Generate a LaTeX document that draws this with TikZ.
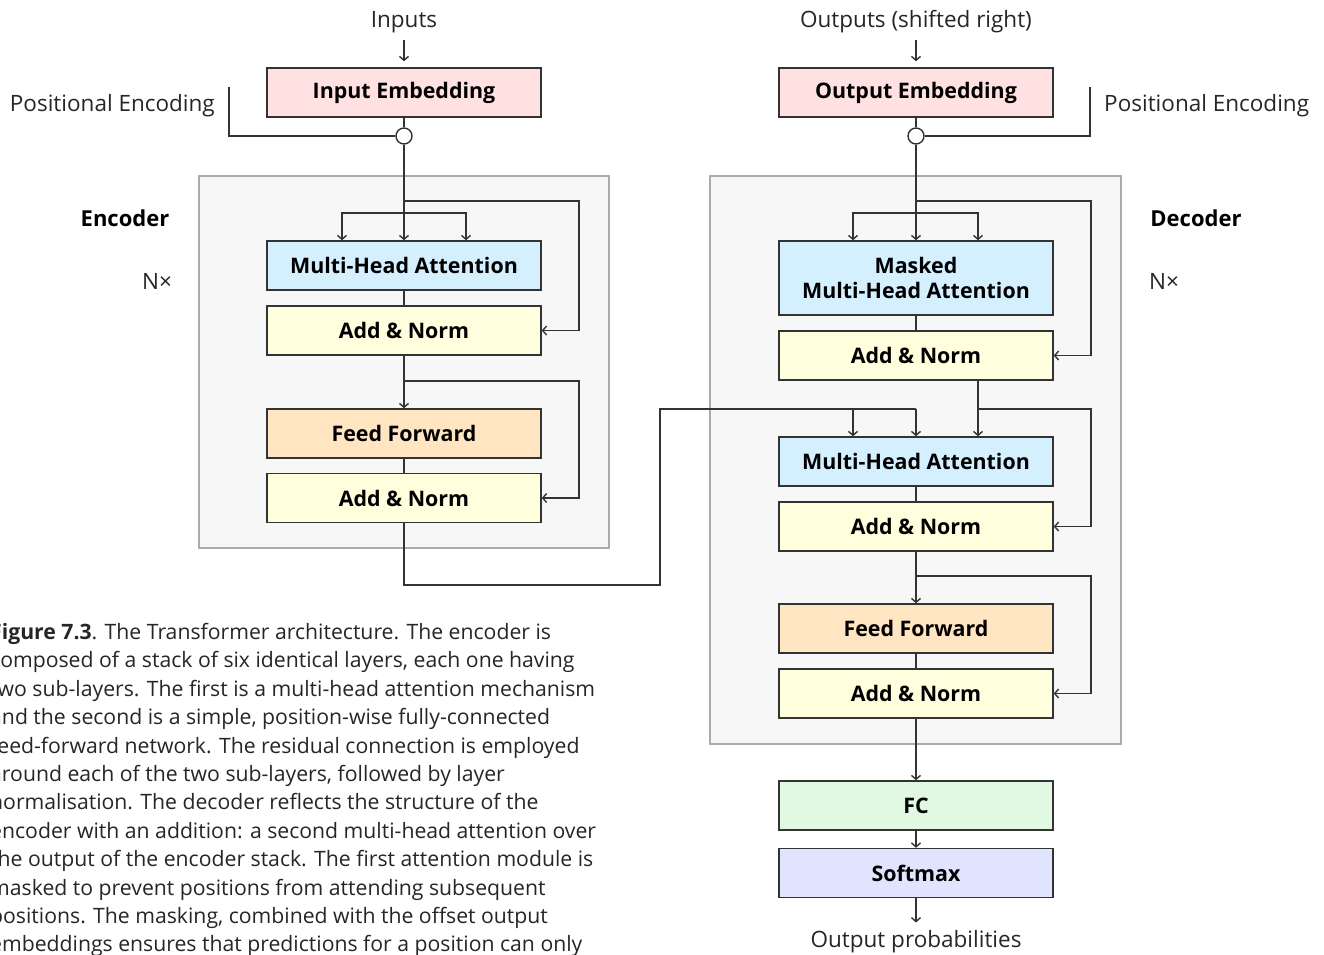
\documentclass[tikz,border=0pt]{standalone}
\usepackage{fontspec}
\setmainfont{Open Sans}
\usetikzlibrary{arrows.meta}
\definecolor{pinkf}{HTML}{FFE1E1}
\definecolor{bluef}{HTML}{D4F0FF}
\definecolor{yelf}{HTML}{FFFEDD}
\definecolor{orf}{HTML}{FFE5C1}
\definecolor{grnf}{HTML}{E1F8E3}
\definecolor{lavf}{HTML}{E1E4FF}
\definecolor{stackf}{HTML}{F7F7F7}
\definecolor{stackd}{HTML}{ABABAB}
\definecolor{linec}{HTML}{333333}
\begin{document}
\begin{tikzpicture}[x=1pt,y=-1pt,
  blk/.style={draw=linec,line width=1.4pt,minimum width=274pt,minimum height=49pt,inner sep=0pt,
    font=\fontsize{21.4}{25}\selectfont\bfseries,align=center,text=black},
  stackbox/.style={draw=stackd,fill=stackf,line width=1.4pt,inner sep=0pt},
  lbl/.style={font=\fontsize{22.5}{26}\selectfont,inner sep=0pt,text=black!85},
  hdr/.style={font=\fontsize{22}{26}\selectfont\bfseries,inner sep=0pt,text=black},
  conn/.style={draw=linec,line width=1.4pt},
  arr/.style={conn,-{Straight Barb[length=4pt,width=9pt]}},
  junc/.style={circle,draw=linec,fill=white,line width=1.4pt,minimum size=16pt,inner sep=0pt}
]
\useasboundingbox (0,0) rectangle (1324,954);
\clip (0,0) rectangle (1324,954);
\fill[white] (0,0) rectangle (1324,954);

% stacks
\node[stackbox,minimum width=410pt,minimum height=372pt] (encstack) at (404,362) {};
\node[stackbox,minimum width=411pt,minimum height=568pt] (decstack) at (915.5,460) {};

% encoder side
\node[lbl] (inputs) at (404,22) {Inputs};
\node[blk,fill=pinkf] (iemb) at (404,92.5) {Input Embedding};
\node[lbl,anchor=east] (pe1) at (215,106) {Positional Encoding};
\node[junc] (ec) at (404,136) {};
\node[hdr] (enclab) at (125,218) {Encoder};
\node[lbl] (encn) at (157,281) {N×};
\node[blk,fill=bluef] (emha) at (404,265.5) {Multi-Head Attention};
\node[blk,fill=yelf] (ean1) at (404,330.5) {Add \& Norm};
\node[blk,fill=orf] (eff) at (404,433.5) {Feed Forward};
\node[blk,fill=yelf] (ean2) at (404,498) {Add \& Norm};

% decoder side
\node[lbl] (outs) at (916,22) {Outputs (shifted right)};
\node[blk,fill=pinkf] (demb) at (916,92.5) {Output Embedding};
\node[lbl,anchor=west] (pe2) at (1104,106) {Positional Encoding};
\node[junc] (dc) at (916,136) {};
\node[hdr] (declab) at (1196,218) {Decoder};
\node[lbl] (decn) at (1164,281) {N×};
\node[blk,fill=bluef,minimum height=74pt] (dmmha) at (916,278) {Masked\\Multi-Head Attention};
\node[blk,fill=yelf] (dan1) at (916,355.5) {Add \& Norm};
\node[blk,fill=bluef] (dmha) at (916,461.5) {Multi-Head Attention};
\node[blk,fill=yelf] (dan2) at (916,526.5) {Add \& Norm};
\node[blk,fill=orf] (dff) at (916,628.5) {Feed Forward};
\node[blk,fill=yelf] (dan3) at (916,693.5) {Add \& Norm};
\node[blk,fill=grnf] (fc) at (916,805.5) {FC};
\node[blk,fill=lavf] (sm) at (916,873) {Softmax};
\node[lbl] (prob) at (916,942) {Output probabilities};

% coordinates
\coordinate (pe1t) at (229,87);
\coordinate (pe2t) at (1090,87);
\coordinate (eb1) at (404,213);
\coordinate (er1) at (404,201);
\coordinate (er1r) at (579,201);
\coordinate (er2) at (404,381);
\coordinate (er2r) at (579,381);
\coordinate (eo1) at (404,585);
\coordinate (eo2) at (660,585);
\coordinate (eo3) at (660,409);
\coordinate (eo4) at (916,409);
\coordinate (db1) at (916,213);
\coordinate (dr1) at (916,201);
\coordinate (dr1r) at (1091,201);
\coordinate (dr2) at (978,409);
\coordinate (dr2r) at (1091,409);
\coordinate (dr3) at (916,576);
\coordinate (dr3r) at (1091,576);

% encoder connectors
\draw[arr,shorten <=7pt,shorten >=6pt] (inputs.south) -- (iemb.north);
\draw[conn] (pe1t) |- (ec.west);
\draw[conn] (iemb.south) -- (ec.north);
\draw[arr] (ec.south) -- (emha.north);
\draw[arr] (eb1) -| ([xshift=-62pt]emha.north);
\draw[arr] (eb1) -| ([xshift=62pt]emha.north);
\draw[arr] (er1) -- (er1r) |- (ean1.east);
\draw[conn] (emha.south) -- (ean1.north);
\draw[arr] (ean1.south) -- (eff.north);
\draw[arr] (er2) -- (er2r) |- (ean2.east);
\draw[conn] (eff.south) -- (ean2.north);
\draw[conn] (ean2.south) -- (eo1) -- (eo2) -- (eo3) -- (eo4);
\draw[arr] (eo4) -- (dmha.north);
\draw[arr] ([xshift=-63pt]eo4) -- ([xshift=-63pt]dmha.north);

% decoder connectors
\draw[arr,shorten <=6pt,shorten >=6pt] (outs.south) -- (demb.north);
\draw[conn] (pe2t) |- (dc.east);
\draw[conn] (demb.south) -- (dc.north);
\draw[arr] (dc.south) -- (dmmha.north);
\draw[arr] (db1) -| ([xshift=-63pt]dmmha.north);
\draw[arr] (db1) -| ([xshift=62pt]dmmha.north);
\draw[arr] (dr1) -- (dr1r) |- (dan1.east);
\draw[conn] (dmmha.south) -- (dan1.north);
\draw[arr] ([xshift=62pt]dan1.south) -- ([xshift=62pt]dmha.north);
\draw[arr] (dr2) -- (dr2r) |- (dan2.east);
\draw[conn] (dmha.south) -- (dan2.north);
\draw[arr] (dan2.south) -- (dff.north);
\draw[arr] (dr3) -- (dr3r) |- (dan3.east);
\draw[conn] (dff.south) -- (dan3.north);
\draw[arr] (dan3.south) -- (fc.north);
\draw[arr] (fc.south) -- (sm.north);
\draw[arr,shorten >=8pt] (sm.south) -- (prob.north);

% caption (cut off at the left and bottom edges, as in the reference)
\node[anchor=north west,inner sep=0pt,align=left,text=black!85,
  font=\fontsize{21.2}{28.4}\selectfont] (caption) at (-10,623) {%
\textbf{Figure 7.3}. The Transformer architecture. The encoder is\\
composed of a stack of six identical layers, each one having\\
two sub-layers. The first is a multi-head attention mechanism\\
and the second is a simple, position-wise fully-connected\\
feed-forward network. The residual connection is employed\\
around each of the two sub-layers, followed by layer\\
normalisation. The decoder reflects the structure of the\\
encoder with an addition: a second multi-head attention over\\
the output of the encoder stack. The first attention module is\\
masked to prevent positions from attending subsequent\\
positions. The masking, combined with the offset output\\
embeddings ensures that predictions for a position can only};
\end{tikzpicture}
\end{document}
